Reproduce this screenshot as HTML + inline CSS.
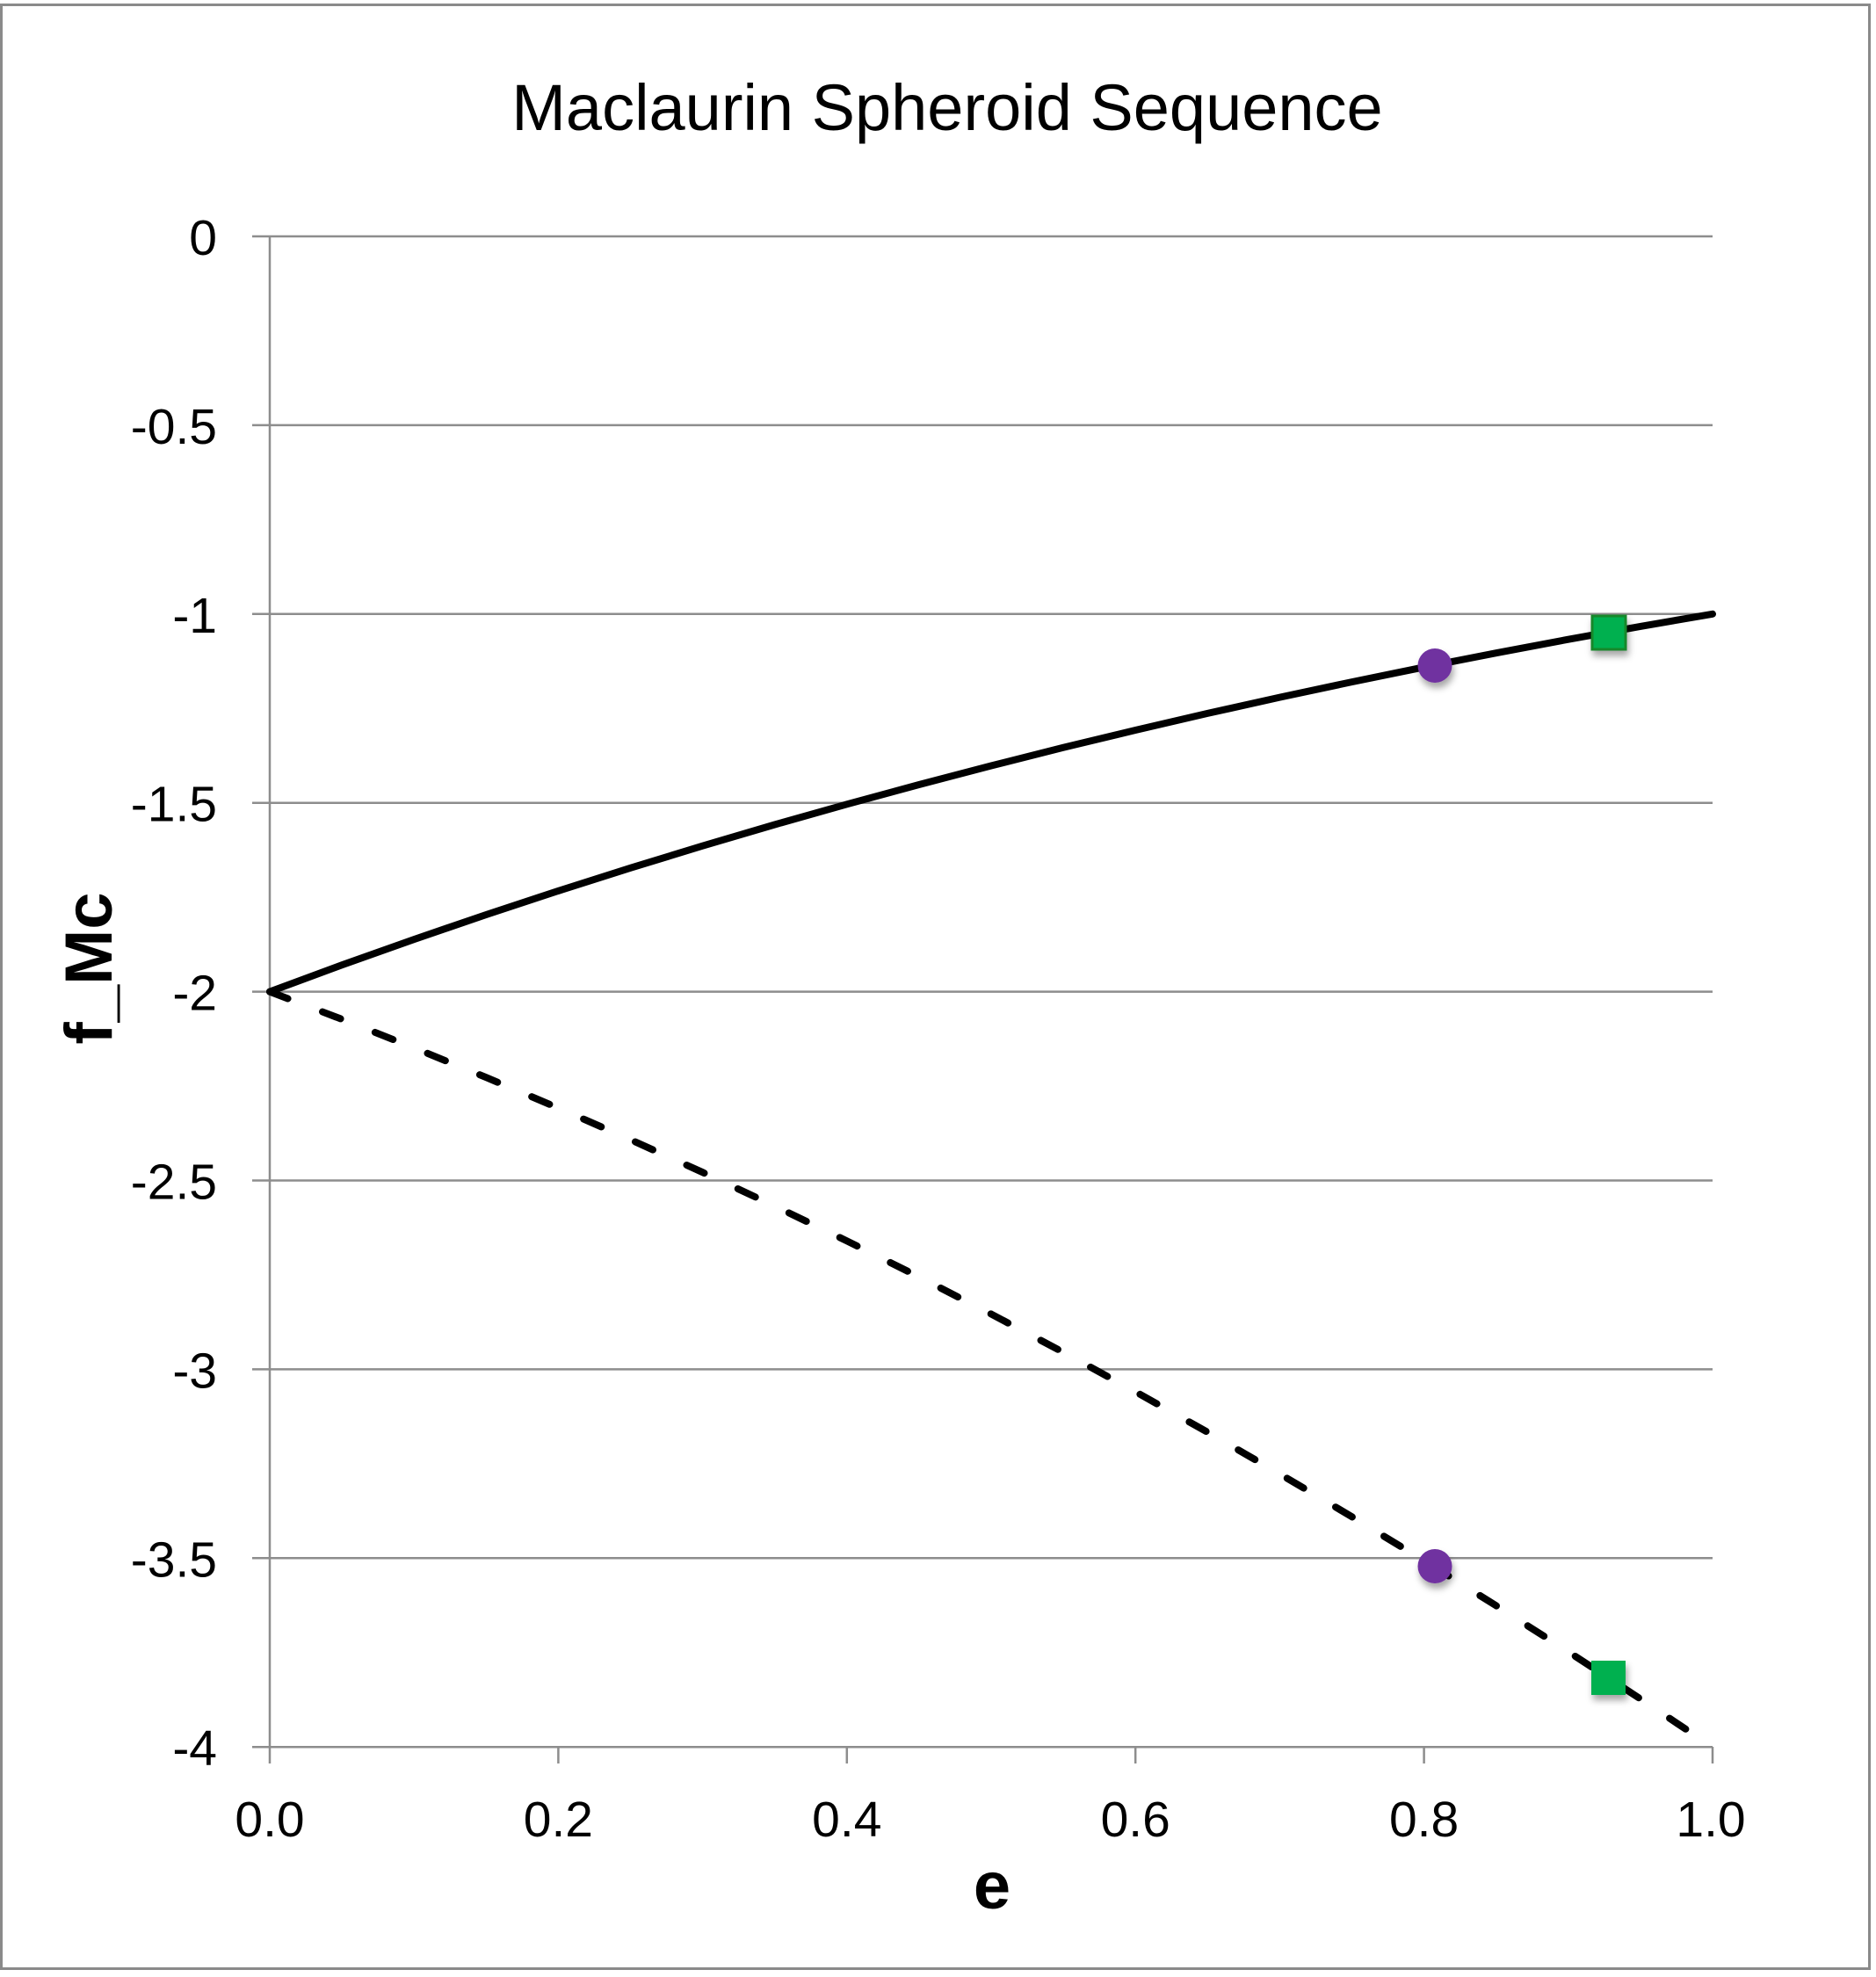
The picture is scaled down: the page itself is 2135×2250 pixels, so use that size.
<!DOCTYPE html>
<html>
<head>
<meta charset="utf-8">
<style>
  html, body { margin: 0; padding: 0; background: #ffffff; }
  svg { display: block; }
  text { font-family: "Liberation Sans", Arial, sans-serif; fill: #000; }
</style>
</head>
<body>
<svg width="2135" height="2250" viewBox="0 0 2135 2250" xmlns="http://www.w3.org/2000/svg">
  <defs>
    <filter id="sh" x="-50%" y="-50%" width="200%" height="200%">
      <feDropShadow dx="2" dy="6" stdDeviation="4" flood-color="#000" flood-opacity="0.35"/>
    </filter>
  </defs>
  <rect x="0" y="0" width="2135" height="2250" fill="#fff"/>
  <!-- outer border -->
  <rect x="1.5" y="5.5" width="2126" height="2235" fill="none" stroke="#8a8a8a" stroke-width="3"/>

  <!-- title -->
  <text x="1078" y="148" font-size="74" text-anchor="middle">Maclaurin Spheroid Sequence</text>

  <!-- gridlines -->
  <g stroke="#8d8d8d" stroke-width="2.5" fill="none">
    <line x1="287" y1="269" x2="1949" y2="269"/>
    <line x1="287" y1="483.9" x2="1949" y2="483.9"/>
    <line x1="287" y1="698.8" x2="1949" y2="698.8"/>
    <line x1="287" y1="913.7" x2="1949" y2="913.7"/>
    <line x1="287" y1="1128.6" x2="1949" y2="1128.6"/>
    <line x1="287" y1="1343.5" x2="1949" y2="1343.5"/>
    <line x1="287" y1="1558.4" x2="1949" y2="1558.4"/>
    <line x1="287" y1="1773.3" x2="1949" y2="1773.3"/>
    <line x1="287" y1="1988.2" x2="1949" y2="1988.2"/>
    <!-- y axis -->
    <line x1="307" y1="269" x2="307" y2="2007"/>
    <!-- x ticks -->
    <line x1="635.4" y1="1988" x2="635.4" y2="2007"/>
    <line x1="963.8" y1="1988" x2="963.8" y2="2007"/>
    <line x1="1292.2" y1="1988" x2="1292.2" y2="2007"/>
    <line x1="1620.6" y1="1988" x2="1620.6" y2="2007"/>
    <line x1="1949" y1="1988" x2="1949" y2="2007"/>
  </g>

  <!-- y tick labels -->
  <g font-size="57" text-anchor="end">
    <text x="247" y="290">0</text>
    <text x="247" y="504.9">-0.5</text>
    <text x="247" y="719.8">-1</text>
    <text x="247" y="934.7">-1.5</text>
    <text x="247" y="1149.6">-2</text>
    <text x="247" y="1364.5">-2.5</text>
    <text x="247" y="1579.4">-3</text>
    <text x="247" y="1794.3">-3.5</text>
    <text x="247" y="2009.2">-4</text>
  </g>

  <!-- x tick labels -->
  <g font-size="57" text-anchor="middle">
    <text x="307" y="2090">0.0</text>
    <text x="635.4" y="2090">0.2</text>
    <text x="963.8" y="2090">0.4</text>
    <text x="1292.2" y="2090">0.6</text>
    <text x="1620.6" y="2090">0.8</text>
    <text x="1947" y="2090">1.0</text>
  </g>

  <!-- axis titles -->
  <text x="1129" y="2172" font-size="76" font-weight="bold" text-anchor="middle">e</text>
  <text transform="translate(127,1102) rotate(-90)" font-size="76" font-weight="bold" text-anchor="middle">f_Mc</text>

  <!-- upper solid curve -->
  <polyline fill="none" stroke="#000" stroke-width="8" stroke-linecap="round" stroke-linejoin="round"
    points="307,1128.6 389.1,1098.3 471.2,1069.1 553.3,1041.0 635.4,1013.9 717.5,987.8 799.6,962.7 881.7,938.5 963.8,915.3 1045.9,893.0 1128,871.5 1210.1,850.8 1292.2,831.0 1374.3,811.9 1456.4,793.6 1538.5,776.1 1620.6,759.3 1702.7,743.2 1784.8,727.7 1866.9,712.9 1949,698.8"/>

  <!-- lower dashed curve -->
  <polyline fill="none" stroke="#000" stroke-width="8" stroke-linecap="round" stroke-linejoin="round"
    stroke-dasharray="22 42.25"
    points="307,1128.6 389.1,1160.0 471.2,1192.5 553.3,1226.2 635.4,1261.0 717.5,1297.0 799.6,1334.2 881.7,1372.6 963.8,1412.3 1045.9,1453.2 1128,1495.5 1210.1,1539.0 1292.2,1583.9 1374.3,1630.0 1456.4,1677.4 1538.5,1726.2 1620.6,1776.1 1702.7,1827.4 1784.8,1879.8 1866.9,1933.5 1949,1988.2"/>

  <!-- markers -->
  <g filter="url(#sh)">
    <circle cx="1633" cy="757.5" r="19.5" fill="#7030A0"/>
    <rect x="1812" y="701" width="38" height="38" fill="#00B050" stroke="#15882B" stroke-width="3"/>
    <circle cx="1633" cy="1782.5" r="19.5" fill="#7030A0"/>
    <rect x="1811" y="1890" width="39" height="39" fill="#00B050"/>
  </g>
</svg>
</body>
</html>
